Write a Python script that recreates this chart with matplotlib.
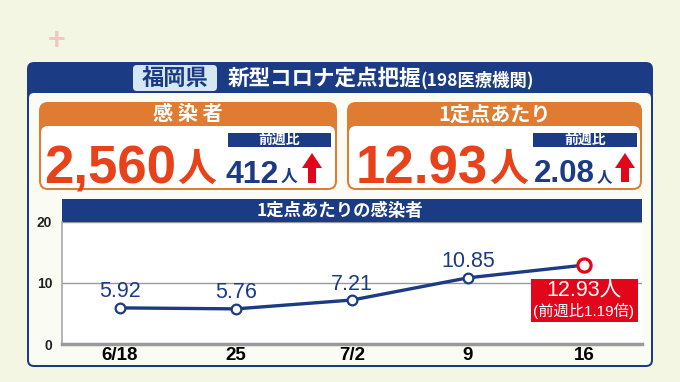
import matplotlib
matplotlib.use("Agg")
import matplotlib.pyplot as plt
import matplotlib.transforms as mtransforms
from matplotlib.patches import FancyBboxPatch, Rectangle, Polygon

plt.rcParams["font.family"] = ["Noto Sans CJK JP", "DejaVu Sans"]

# data
prefecture = "福岡県"
n_clinics = 198
dates = ["6/18", "25", "7/2", "9", "16"]
per_clinic = [5.92, 5.76, 7.21, 10.85, 12.93]
y_ticks = [0, 10, 20]
cases_total = 2560
cases_diff = 412
per_clinic_diff = 2.08
week_ratio = 1.19

NAVY = "#1B3B85"
ORANGE = "#E07B32"
RED_NUM = "#E8421B"
RED = "#E2061B"
BG = "#F4F6E4"
PANEL = "#FAFBF2"
NUM_FONT = ["Liberation Sans", "DejaVu Sans"]
LAT_FONT = ["Liberation Sans", "Noto Sans CJK JP"]

fig = plt.figure(figsize=(6.8, 3.82), dpi=100, facecolor=BG)

# background canvas in pixel coordinates (y down)
bg = fig.add_axes([0, 0, 1, 1])
bg.set_xlim(0, 680)
bg.set_ylim(382, 0)
bg.axis("off")


def rbox(x0, y0, x1, y1, fc, r=6, z=1):
    bg.add_patch(FancyBboxPatch((x0, y0), x1 - x0, y1 - y0,
                                boxstyle=f"round,pad=0,rounding_size={r}",
                                fc=fc, ec="none", zorder=z))


def up_arrow(xc, top, bottom, color=RED):
    head = top + 15
    pts = [(xc, top), (xc + 10, head), (xc + 4, head), (xc + 4, bottom),
           (xc - 4, bottom), (xc - 4, head), (xc - 10, head)]
    bg.add_patch(Polygon(pts, closed=True, fc=color, ec="none", zorder=5))


# faint watermark
bg.text(57, 41, "+", color="#F0C6C6", fontsize=22, fontweight="bold",
        ha="center", va="center", family=LAT_FONT)

# outer panel + header
rbox(27, 62, 653, 367, NAVY, r=7)
rbox(29, 93, 651, 365, PANEL, r=5, z=2)
rbox(133, 65, 217, 91, "#D6E7F4", r=4, z=3)
bg.text(175, 78, prefecture, color=NAVY, fontsize=16, fontweight="bold",
        ha="center", va="center", zorder=4)
bg.text(228, 78, "新型コロナ定点把握", color="white", fontsize=15.5,
        fontweight="bold", ha="left", va="center", zorder=4)
bg.text(421, 80, f"({n_clinics}医療機関)", color="white", fontsize=12.5,
        fontweight="bold", ha="left", va="center", zorder=4)

# summary cards
for x0, x1, title in [(39, 337, "感 染 者"), (347, 642, "1定点あたり")]:
    rbox(x0, 102, x1, 190, ORANGE, r=9, z=3)
    rbox(x0 + 2, 126, x1 - 2, 188, "white", r=7, z=3)
    bg.text((x0 + x1) / 2, 114, title, color="white", fontsize=14.5,
            fontweight="bold", ha="center", va="center", zorder=4)

# left card
bg.text(176, 184, f"{cases_total:,}", color=RED_NUM, fontsize=38,
        fontweight="bold", family=NUM_FONT, ha="right", va="baseline", zorder=4)
bg.text(177, 181, "人", color=RED_NUM, fontsize=28, fontweight="bold",
        ha="left", va="baseline", zorder=4)
bg.add_patch(Rectangle((228, 133), 103, 14, fc=NAVY, ec="none", zorder=4))
bg.text(279.5, 140, "前週比", color="white", fontsize=10, fontweight="bold",
        ha="center", va="center", zorder=5)
bg.text(279, 183, f"{cases_diff}", color=NAVY, fontsize=23, fontweight="bold",
        family=NUM_FONT, ha="right", va="baseline", zorder=4)
bg.text(281, 182, "人", color=NAVY, fontsize=12, fontweight="bold",
        ha="left", va="baseline", zorder=4)
up_arrow(312, 153, 183)

# right card
bg.text(488, 184, f"{per_clinic[-1]:.2f}", color=RED_NUM, fontsize=38,
        fontweight="bold", family=NUM_FONT, ha="right", va="baseline", zorder=4)
bg.text(489, 181, "人", color=RED_NUM, fontsize=28, fontweight="bold",
        ha="left", va="baseline", zorder=4)
bg.add_patch(Rectangle((533, 133), 104, 14, fc=NAVY, ec="none", zorder=4))
bg.text(585, 140, "前週比", color="white", fontsize=10, fontweight="bold",
        ha="center", va="center", zorder=5)
bg.text(595, 182, f"{per_clinic_diff:.2f}", color=NAVY, fontsize=22.5,
        fontweight="bold", family=NUM_FONT, ha="right", va="baseline", zorder=4)
bg.text(597, 181, "人", color=NAVY, fontsize=11, fontweight="bold",
        ha="left", va="baseline", zorder=4)
up_arrow(625, 153, 182)

# chart header bar
bg.add_patch(Rectangle((62, 199), 580, 23, fc=NAVY, ec="none", zorder=4))
bg.text(340, 210.5, "1定点あたりの感染者", color="white", fontsize=12.5,
        fontweight="bold", ha="center", va="center", zorder=5)

# line chart
ax = fig.add_axes([62 / 680, 1 - 344 / 382, 580 / 680, 122 / 382])
ax.set_facecolor("white")
x = list(range(len(dates)))
ax.plot(x, per_clinic, color=NAVY, lw=2.4, zorder=3)
ax.plot(x[:-1], per_clinic[:-1], "o", ms=7, mfc="white", mec=NAVY, mew=1.6,
        zorder=4)
ax.plot(x[-1], per_clinic[-1], "o", ms=9.5, mfc="white", mec=RED, mew=2.3,
        zorder=4)
ax.set_xlim(-0.5, len(dates) - 0.5)
ax.set_ylim(y_ticks[0], y_ticks[-1])

for xi, v in zip(x[:-1], per_clinic[:-1]):
    ax.annotate(f"{v:.2f}", (xi, v), xytext=(0, 16), textcoords="offset pixels",
                ha="center", va="center", fontsize=15.5, color=NAVY,
                family=LAT_FONT, zorder=5)

# red callout for the latest week
anchor = mtransforms.ScaledTranslation(x[-1], per_clinic[-1], ax.transData)
ax.add_patch(Rectangle((-53, -57), 107, 43, transform=anchor, fc=RED,
                       ec="none", zorder=5, clip_on=False))
ax.annotate(f"{per_clinic[-1]:.2f}人", (x[-1], per_clinic[-1]), xytext=(0, -25),
            textcoords="offset pixels", ha="center", va="center",
            fontsize=15.5, color="white", family=LAT_FONT, zorder=6)
ax.annotate(f"(前週比{week_ratio:.2f}倍)", (x[-1], per_clinic[-1]),
            xytext=(0, -46), textcoords="offset pixels", ha="center",
            va="center", fontsize=11, color="white", family=LAT_FONT, zorder=6)

ax.set_xticks(x, dates)
ax.set_yticks(y_ticks)
ax.tick_params(axis="x", length=0, pad=2, labelsize=13.5)
ax.tick_params(axis="y", length=0, pad=7, labelsize=10, labelcolor="#222222")
for lab in ax.get_xticklabels():
    lab.set_fontweight("bold")
    lab.set_family(LAT_FONT)
for lab in ax.get_yticklabels():
    lab.set_fontweight("bold")
    lab.set_family(LAT_FONT)
ax.yaxis.grid(True, color="#9A9A9A", lw=1)
ax.set_axisbelow(True)
ax.spines["top"].set_visible(False)
ax.spines["right"].set_visible(False)
ax.spines["left"].set_color("#A8A8A8")
ax.spines["left"].set_linewidth(1.2)
ax.spines["bottom"].set_color("#9A9A9A")
ax.spines["bottom"].set_linewidth(2.5)

fig.savefig("out.png", dpi=100, facecolor=BG)
